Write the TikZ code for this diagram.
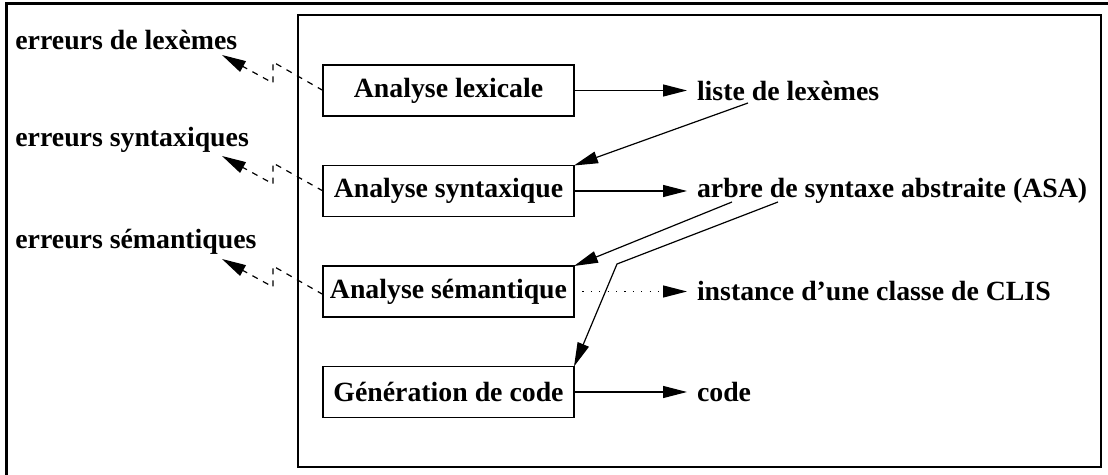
\documentclass[tikz,border=0pt]{standalone}
\usepackage{fontspec}
\setmainfont{Liberation Serif}
\usetikzlibrary{arrows.meta,calc}
\begin{document}
\begin{tikzpicture}[x=0.5pt,y=-0.5pt,
  every node/.style={font=\fontsize{13.9}{16}\selectfont\bfseries},
  phase/.style={draw,line width=0.6pt,minimum width=125.5pt,minimum height=25.5pt,inner sep=1pt,outer sep=0pt},
  lbl/.style={anchor=west,inner sep=0pt},
  outlbl/.style={anchor=west,inner xsep=5pt,inner ysep=0pt,outer sep=0pt},
  tip/.style={-{Triangle[length=12pt,width=6pt]}},
  conn/.style={tip,line width=0.6pt},
  errconn/.style={tip,line width=0.6pt,dash pattern=on 3pt off 3pt}]
\useasboundingbox (0,0) rectangle (1108,475);
% frames
\draw[line width=1.5pt] (6,475) -- (6,3.5) -- (1108,3.5);
\draw[line width=0.8pt] (298,15) rectangle (1101,467);
% phase boxes
\node[phase] (lex) at (448.5,90.5) {Analyse lexicale};
\node[phase] (syn) at (448.5,191) {Analyse syntaxique};
\node[phase] (sem) at (448.5,291.5) {Analyse s\'emantique};
\node[phase] (gen) at (448.5,392) {G\'en\'eration de code};
% outputs
\node[outlbl] (liste) at (687,90.5) {liste de lex\`emes};
\node[outlbl] (arbre) at (687,191) {arbre de syntaxe abstraite (ASA)};
\node[outlbl] (inst) at (687,291.5) {instance d'une classe de CLIS};
\node[outlbl] (code) at (687,392) {code};
% errors
\node[lbl] (elex) at (15,40) {erreurs de lex\`emes};
\node[lbl] (esyn) at (15,140) {erreurs syntaxiques};
\node[lbl] (esem) at (15,242) {erreurs s\'emantiques};
% horizontal arrows
\draw[conn] (lex.east) -- (liste.west);
\draw[conn] (syn.east) -- (arbre.west);
\draw[tip,line width=0.6pt,dash pattern=on 0.6pt off 3.6pt] (sem.east) -- (inst.west);
\draw[conn] (gen.east) -- (code.west);
% feedback arrows
\coordinate (l1) at (748,103);
\coordinate (a1) at (732,202);
\coordinate (a2) at (778,202);
\coordinate (a3) at (617,264);
\draw[conn] (l1) -- (syn.north east);
\draw[conn] (a1) -- (sem.north east);
\draw[conn] (a2) -- (a3) -- (gen.north east);
% error arrows (broken dashed)
\coordinate (z1a) at (273,62);  \coordinate (z1b) at (273,83);  \coordinate (t1) at (222,55);
\coordinate (z2a) at (273,163); \coordinate (z2b) at (273,184); \coordinate (t2) at (222,156);
\coordinate (z3a) at (273,266); \coordinate (z3b) at (273,287); \coordinate (t3) at (222,259);
\draw[errconn] (lex.west) -- (z1a) -- (z1b) -- (t1);
\draw[errconn] (syn.west) -- (z2a) -- (z2b) -- (t2);
\draw[errconn] ($(sem.west)+(0,3)$) -- (z3a) -- (z3b) -- (t3);
\end{tikzpicture}
\end{document}
